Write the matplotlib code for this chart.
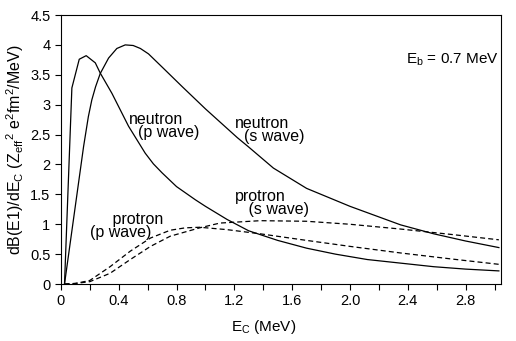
import matplotlib.pyplot as plt

plt.rcParams['font.family'] = ['Liberation Sans', 'DejaVu Sans']
plt.rcParams['mathtext.fontset'] = 'custom'
plt.rcParams['mathtext.rm'] = 'Liberation Sans'
plt.rcParams['mathtext.it'] = 'Liberation Sans'

# --- data ---
# neutron, s wave (solid, peak ~4.0)
n_s_x = [0.025, 0.157, 0.19, 0.214, 0.24, 0.272, 0.33, 0.387, 0.445, 0.50, 0.55, 0.606, 0.70,
         0.84, 1.0, 1.22, 1.30, 1.47, 1.70, 2.00, 2.35, 2.58, 2.80, 3.03]
n_s_y = [0.0, 2.30, 2.80, 3.08, 3.30, 3.52, 3.78, 3.94, 4.00, 3.99, 3.94, 3.85, 3.63,
         3.30, 2.93, 2.45, 2.29, 1.94, 1.60, 1.30, 0.99, 0.84, 0.72, 0.61]

# neutron, p wave (solid, sharp peak ~3.8)
n_p_x = [0.025, 0.076, 0.127, 0.175, 0.238, 0.272, 0.353, 0.468, 0.583, 0.64, 0.70, 0.80,
         0.93, 1.0, 1.15, 1.30, 1.50, 1.70, 1.90, 2.12, 2.35, 2.58, 2.80, 3.03]
n_p_y = [0.0, 3.28, 3.76, 3.82, 3.70, 3.53, 3.19, 2.64, 2.19, 2.01, 1.86, 1.63,
         1.41, 1.30, 1.08, 0.89, 0.73, 0.60, 0.50, 0.41, 0.35, 0.29, 0.25, 0.22]

# protron, p wave (dashed)
p_p_x = [0.025, 0.10, 0.20, 0.34, 0.48, 0.62, 0.756, 0.86, 0.96, 1.15, 1.38, 1.70, 2.00,
         2.35, 2.70, 3.03]
p_p_y = [0.0, 0.01, 0.06, 0.29, 0.55, 0.77, 0.90, 0.94, 0.95, 0.91, 0.84, 0.73, 0.63,
         0.52, 0.42, 0.33]

# protron, s wave (dashed)
p_s_x = [0.025, 0.10, 0.20, 0.34, 0.48, 0.62, 0.756, 0.96, 1.10, 1.38, 1.70, 2.00, 2.35,
         2.70, 3.03]
p_s_y = [0.0, 0.01, 0.04, 0.18, 0.41, 0.63, 0.80, 0.94, 1.02, 1.06, 1.05, 1.00, 0.92,
         0.83, 0.74]

x_ticks = [0, 0.4, 0.8, 1.2, 1.6, 2.0, 2.4, 2.8]
x_tick_labels = ['0', '0.4', '0.8', '1.2', '1.6', '2.0', '2.4', '2.8']
x_minor = [0.2, 0.6, 1.0, 1.4, 1.8, 2.2, 2.6, 3.0]
y_ticks = [0, 0.5, 1, 1.5, 2, 2.5, 3, 3.5, 4, 4.5]
y_tick_labels = ['0', '0.5', '1', '1.5', '2', '2.5', '3', '3.5', '4', '4.5']

fig = plt.figure(figsize=(5.16, 3.41), dpi=100)
ax = fig.add_axes([0.118, 0.167, 0.853, 0.789])

lw = 0.9
ax.plot(n_s_x, n_s_y, color='black', lw=lw)
ax.plot(n_p_x, n_p_y, color='black', lw=lw)
ax.plot(p_p_x, p_p_y, color='black', lw=lw, dashes=(4, 2.5))
ax.plot(p_s_x, p_s_y, color='black', lw=lw, dashes=(4, 2.5))

ax.set_xlim(0, 3.045)
ax.set_ylim(0, 4.5)
ax.set_xticks(x_ticks)
ax.set_xticklabels(x_tick_labels)
ax.set_xticks(x_minor, minor=True)
ax.set_yticks(y_ticks)
ax.set_yticklabels(y_tick_labels)
ax.tick_params(which='both', direction='out', length=4, width=0.8, labelsize=10.5)

ax.set_xlabel(r'E$\mathregular{_C}$ (MeV)', fontsize=11, labelpad=7, x=0.461)
ax.set_ylabel(r'dB(E1)/dE$\mathregular{_C}$ (Z$\mathregular{_{eff}}$$\mathregular{^2}$ e$\mathregular{^2}$fm$\mathregular{^2}$/MeV)',
              fontsize=11.5, labelpad=3)

fs = 11.5
ls = 0.8
ax.text(2.385, 3.75, r'E$\mathregular{_b}$ = 0.7 MeV', fontsize=11, va='center')
ax.text(0.47, 2.64, 'neutron\n  (p wave)', fontsize=fs, va='center', linespacing=ls)
ax.text(1.206, 2.58, 'neutron\n  (s wave)', fontsize=fs, va='center', linespacing=ls)
ax.text(1.206, 1.355, 'protron\n   (s wave)', fontsize=fs, va='center', linespacing=ls)
ax.text(0.203, 0.97, '     protron\n(p wave)', fontsize=fs, va='center', linespacing=ls)

fig.savefig('out.png', dpi=100)
